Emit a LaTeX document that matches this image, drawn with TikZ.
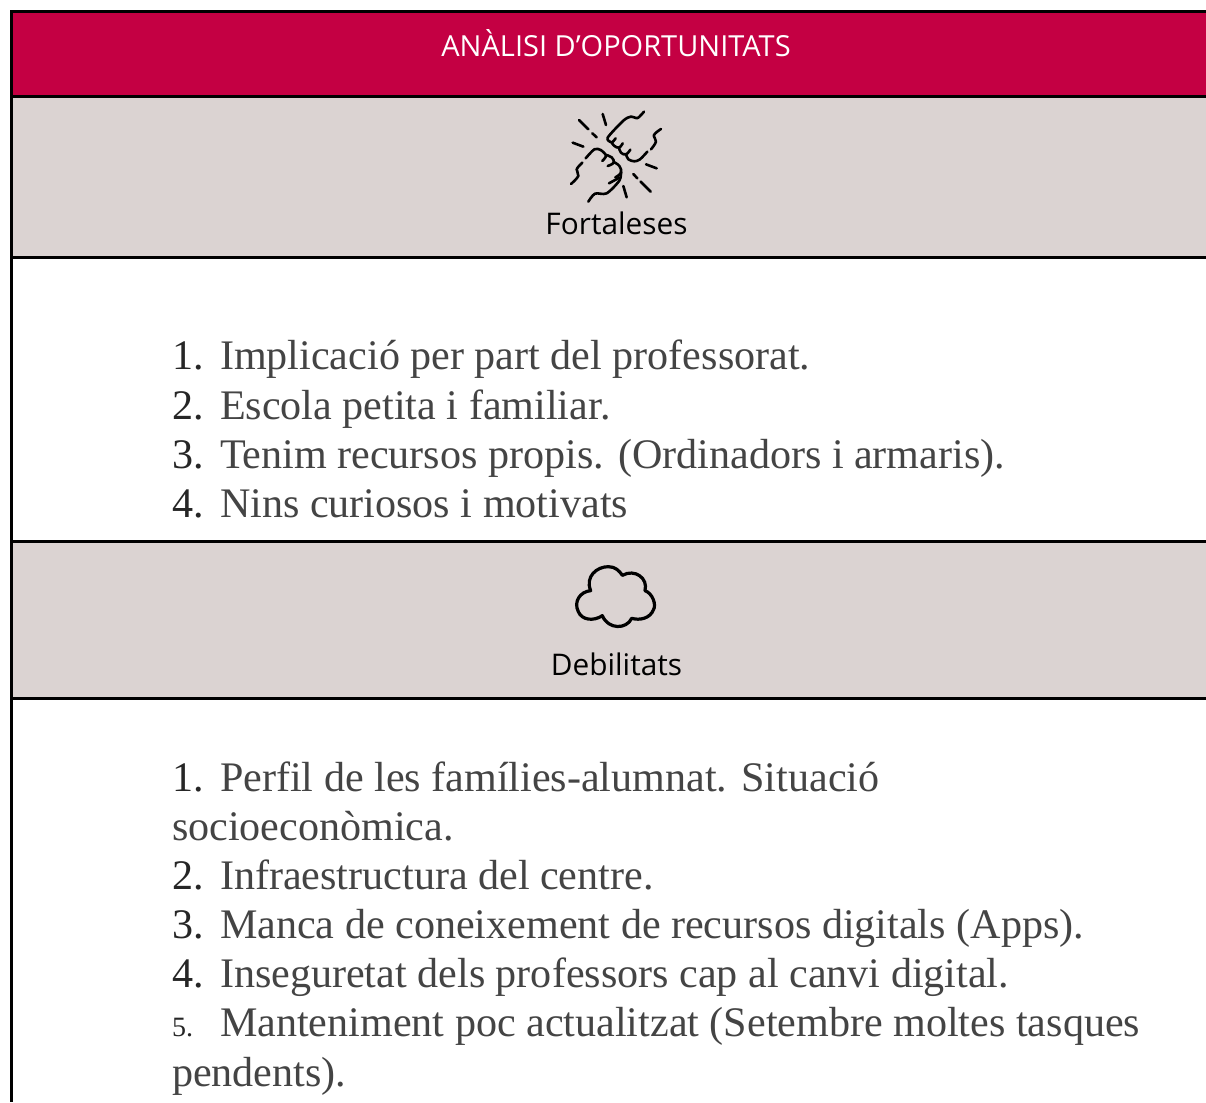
\documentclass[tikz,border=0pt]{standalone}
\usepackage{fontspec}
\setmainfont{Liberation Serif}
\newfontfamily\labelfont{Open Sans}
\definecolor{crimson}{HTML}{C40043}
\definecolor{bandgrey}{HTML}{DBD3D2}
\definecolor{listgrey}{HTML}{444444}
\tikzset{
  rule/.style={draw=black,line width=3pt},
  listnum/.style={anchor=base west,inner sep=0pt,outer sep=0pt,font=\fontsize{42.1}{42.1}\selectfont,text=black!85},
  listtext/.style={anchor=base west,inner sep=0pt,outer sep=0pt,font=\fontsize{42.1}{42.1}\selectfont,text=listgrey},
  bandlabel/.style={anchor=base,inner sep=0pt,outer sep=0pt,font=\labelfont\fontsize{29.8}{29.8}\selectfont,text=black},
  icon/.style={draw=black,line width=2.6pt,line cap=round,line join=round},
  iconthick/.style={draw=black,line width=3.2pt,line cap=round,line join=round}
}
\begin{document}
\begin{tikzpicture}[x=1pt,y=-1pt]
\useasboundingbox (0,0) rectangle (1206,1102);
\fill[white] (0,0) rectangle (1206,1102);
\fill[crimson] (11.5,11.5) rectangle (1206,96.5);
\fill[bandgrey] (11.5,96.5) rectangle (1206,257);
\fill[bandgrey] (11.5,541.5) rectangle (1206,698);
\coordinate (tl) at (11.5,11.5);
\coordinate (tr) at (1206,11.5);
\coordinate (bl) at (11.5,1102);
\draw[rule] (tr) -- (tl) -- (bl);
\foreach \yy in {96.5,257,541.5,698}{\draw[rule] (11.5,\yy) -- (1206,\yy);}

\node[anchor=base,inner sep=0pt,text=white,font=\labelfont\fontsize{29}{29}\selectfont] (title) at (616,57) {ANÀLISI D’OPORTUNITATS};
\node[bandlabel] (fort) at (616.5,234) {Fortaleses};
\node[bandlabel] (debil) at (616.5,675) {Debilitats};

% fists icon
\begin{scope}[shift={(540,100)},x=0.3333pt,y=-0.3333pt]
\draw[icon] plot[smooth,tension=0.45] coordinates {(312,35) (293,54) (272,50) (250,62) (203,113) (215,127) (227,115)};
\draw[icon] plot[smooth,tension=0.7] coordinates {(215,127) (222,137) (237,143) (248,130)};
\draw[icon] plot[smooth,tension=0.7] coordinates {(237,143) (243,158) (258,163) (271,149)};
\draw[icon] plot[smooth,tension=0.5] coordinates {(258,163) (265,178) (283,184) (300,178) (322,155)};
\draw[icon] plot[smooth,tension=0.6] coordinates {(363,87) (342,105) (348,125) (333,148)};
\draw[icon] plot[smooth,tension=0.5] coordinates {(137,175) (163,148) (182,150) (198,167) (187,183)};
\draw[icon] plot[smooth,tension=0.7] coordinates {(198,165) (215,172) (221,188) (203,198)};
\draw[icon] plot[smooth,tension=0.7] coordinates {(221,186) (238,198) (243,218) (226,232)};
\draw[icon] plot[smooth,tension=0.5] coordinates {(243,216) (238,242) (200,280) (165,281) (145,305)};
\draw[icon] (207,250) -- (238,233);
\draw[icon] plot[smooth,tension=0.6] coordinates {(127,188) (110,208) (115,228) (93,252)};
\foreach \xa/\ya/\xb/\yb in {117/60/145/88,188/42/198/75,157/100/170/112,98/128/130/140,318/193/350/205,280/222/292/235,302/245/332/275,250/258/260/292}{
  \draw[icon] (\xa,\ya) -- (\xb,\yb);
}
\end{scope}

% cloud icon
\begin{scope}[shift={(540,550)},x=0.3333pt,y=-0.3333pt]
\draw[iconthick] (152,122) .. controls (135,80) and (170,50) .. (205,50) .. controls (225,50) and (238,62) .. (247,76) .. controls (285,55) and (325,85) .. (315,122) .. controls (338,130) and (350,165) .. (340,180) .. controls (330,205) and (300,212) .. (275,205) .. controls (260,238) and (205,240) .. (187,197) .. controls (160,215) and (125,210) .. (115,185) .. controls (100,155) and (120,125) .. (152,122) -- cycle;
\end{scope}

% first list
\node[listnum] (a1n) at (172,369.3) {1.};
\node[listtext] (a1) at (220,369.3) {Implicació per part del professorat.};
\node[listnum] (a2n) at (172,419.2) {2.};
\node[listtext] (a2) at (220,419.2) {Escola petita i familiar.};
\node[listnum] (a3n) at (172,468.2) {3.};
\node[listtext] (a3) at (220,468.2) {Tenim recursos propis. (Ordinadors i armaris).};
\node[listnum] (a4n) at (172,517.2) {4.};
\node[listtext] (a4) at (220,517.2) {Nins curiosos i motivats};

% second list
\node[listnum] (b1n) at (172,791.2) {1.};
\node[listtext] (b1) at (220,791.2) {Perfil de les famílies-alumnat. Situació};
\node[listtext] (b1b) at (172,840.2) {socioeconòmica.};
\node[listnum] (b2n) at (172,889.2) {2.};
\node[listtext] (b2) at (220,889.2) {Infraestructura del centre.};
\node[listnum] (b3n) at (172,938.2) {3.};
\node[listtext] (b3) at (220,938.2) {Manca de coneixement de recursos digitals (Apps).};
\node[listnum] (b4n) at (172,987.2) {4.};
\node[listtext] (b4) at (220,987.2) {Inseguretat dels professors cap al canvi digital.};
\node[listnum,font=\fontsize{28}{28}\selectfont] (b5n) at (172,1036.6) {5.};
\node[listtext] (b5) at (220,1036.6) {Manteniment poc actualitzat (Setembre moltes tasques};
\node[listtext] (b5b) at (172,1086.4) {pendents).};
\end{tikzpicture}
\end{document}
